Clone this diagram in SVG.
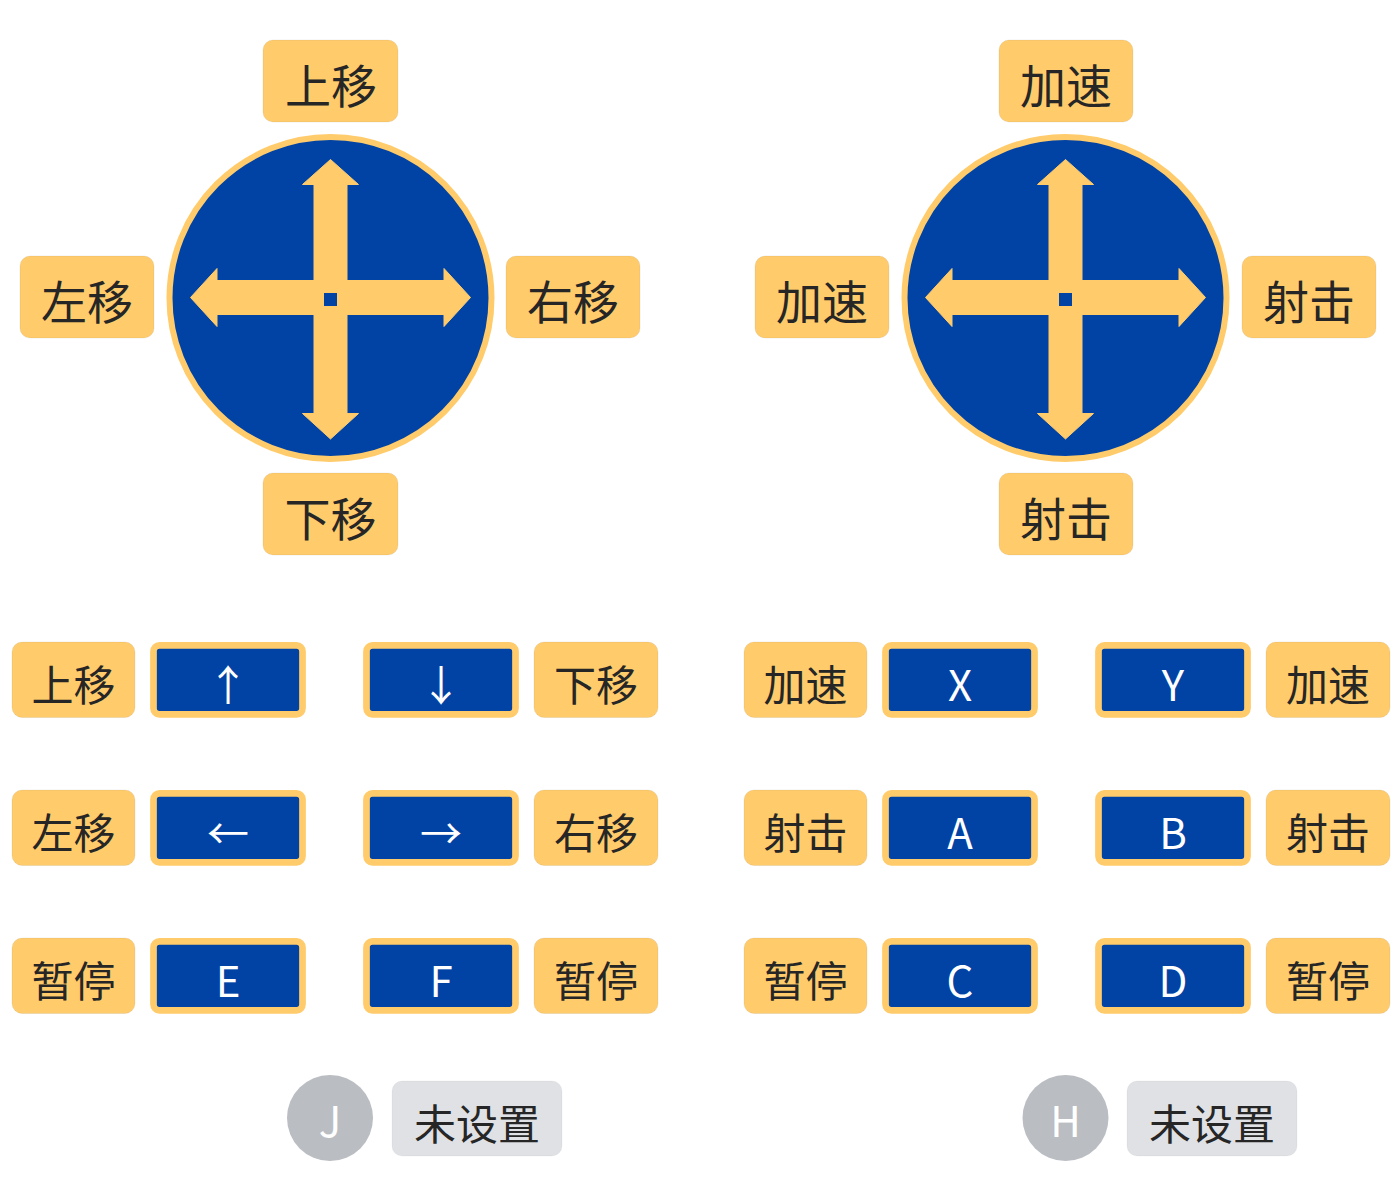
<svg xmlns="http://www.w3.org/2000/svg" xmlns:xlink="http://www.w3.org/1999/xlink" width="1400" height="1200" viewBox="0 0 1400 1200">
<style>
text{font-family:"Noto Sans CJK SC","Noto Sans",sans-serif;text-anchor:middle}
.lg{fill:#ffcb6b}
rect.lg{stroke:#000;stroke-opacity:.1;stroke-width:.6}
.big{font-size:46px;fill:#262626}
.sm{font-size:42px;fill:#262626}
.key{font-size:42px;fill:#fff}
.kr{fill:#0043a5;stroke:#ffcb6b;stroke-width:6.700}
.gr{fill:#dfe1e5;stroke:#000;stroke-opacity:.06;stroke-width:.6}
.gc{fill:#babdc2}
</style>
<defs>
<g id="stick">
<circle r="161" fill="#0043a5" stroke="#ffcb6b" stroke-width="6"/>
<path class="lg" stroke="#ffcb6b" stroke-width="1" stroke-linejoin="round" d="M0-138.500L28-113.500H16.500V-17.500H113.500V-29.500L140-.5L113.500 28.500V16.500H16.500V115.500H28L0 141L-28 115.500H-16.500V16.500H-113.500V28.500L-140-.5L-113.500-29.500V-17.500H-16.500V-113.500H-28Z"/>
<rect x="-6.500" y="-5" width="13" height="13" fill="#0043a5"/>
</g>
</defs>
<g id="stick-left"><use xlink:href="#stick" href="#stick" x="330.500" y="298"/></g>
<g id="stick-right"><use xlink:href="#stick" href="#stick" x="1065.500" y="298"/></g>
<g id="n1"><rect class="lg" x="263" y="40" width="135" height="82" rx="10"/><text class="big" x="331" y="103">上移</text></g>
<g id="n2"><rect class="lg" x="20" y="256" width="134" height="82" rx="10"/><text class="big" x="87" y="319">左移</text></g>
<g id="n3"><rect class="lg" x="506" y="256" width="134" height="82" rx="10"/><text class="big" x="573" y="319">右移</text></g>
<g id="n4"><rect class="lg" x="263" y="473" width="135" height="82" rx="10"/><text class="big" x="330.500" y="536">下移</text></g>
<g id="n5"><rect class="lg" x="999" y="40" width="134" height="82" rx="10"/><text class="big" x="1066" y="103">加速</text></g>
<g id="n6"><rect class="lg" x="755" y="256" width="134" height="82" rx="10"/><text class="big" x="822" y="319">加速</text></g>
<g id="n7"><rect class="lg" x="1242" y="256" width="134" height="82" rx="10"/><text class="big" x="1309" y="319">射击</text></g>
<g id="n8"><rect class="lg" x="999" y="473" width="134" height="82" rx="10"/><text class="big" x="1066" y="536">射击</text></g>

<g id="l1"><rect class="lg" x="12" y="642" width="123" height="75.500" rx="10"/><text class="sm" x="73.500" y="701">上移</text></g>
<g id="k1"><rect class="kr" x="153.500" y="645.300" width="149" height="69" rx="6"/><text class="key" x="228" y="701">↑</text></g>
<g id="k2"><rect class="kr" x="366.500" y="645.300" width="149" height="69" rx="6"/><text class="key" x="441" y="701">↓</text></g>
<g id="l2"><rect class="lg" x="534" y="642" width="124" height="75.500" rx="10"/><text class="sm" x="596" y="701">下移</text></g>
<g id="l3"><rect class="lg" x="12" y="790" width="123" height="75.500" rx="10"/><text class="sm" x="73.500" y="849">左移</text></g>
<g id="k3"><rect class="kr" x="153.500" y="793.300" width="149" height="69" rx="6"/><text class="key" x="228" y="849">←</text></g>
<g id="k4"><rect class="kr" x="366.500" y="793.300" width="149" height="69" rx="6"/><text class="key" x="441" y="849">→</text></g>
<g id="l4"><rect class="lg" x="534" y="790" width="124" height="75.500" rx="10"/><text class="sm" x="596" y="849">右移</text></g>
<g id="l5"><rect class="lg" x="12" y="938" width="123" height="75.500" rx="10"/><text class="sm" x="73.500" y="997">暂停</text></g>
<g id="k5"><rect class="kr" x="153.500" y="941.300" width="149" height="69" rx="6"/><text class="key" x="228" y="997">E</text></g>
<g id="k6"><rect class="kr" x="366.500" y="941.300" width="149" height="69" rx="6"/><text class="key" x="441" y="997">F</text></g>
<g id="l6"><rect class="lg" x="534" y="938" width="124" height="75.500" rx="10"/><text class="sm" x="596" y="997">暂停</text></g>

<g id="l7"><rect class="lg" x="744" y="642" width="123" height="75.500" rx="10"/><text class="sm" x="805.500" y="701">加速</text></g>
<g id="k7"><rect class="kr" x="885.500" y="645.300" width="149" height="69" rx="6"/><text class="key" x="960" y="701">X</text></g>
<g id="k8"><rect class="kr" x="1098.500" y="645.300" width="149" height="69" rx="6"/><text class="key" x="1173" y="701">Y</text></g>
<g id="l8"><rect class="lg" x="1266" y="642" width="124" height="75.500" rx="10"/><text class="sm" x="1328" y="701">加速</text></g>
<g id="l9"><rect class="lg" x="744" y="790" width="123" height="75.500" rx="10"/><text class="sm" x="805.500" y="849">射击</text></g>
<g id="k9"><rect class="kr" x="885.500" y="793.300" width="149" height="69" rx="6"/><text class="key" x="960" y="849">A</text></g>
<g id="k10"><rect class="kr" x="1098.500" y="793.300" width="149" height="69" rx="6"/><text class="key" x="1173" y="849">B</text></g>
<g id="l10"><rect class="lg" x="1266" y="790" width="124" height="75.500" rx="10"/><text class="sm" x="1328" y="849">射击</text></g>
<g id="l11"><rect class="lg" x="744" y="938" width="123" height="75.500" rx="10"/><text class="sm" x="805.500" y="997">暂停</text></g>
<g id="k11"><rect class="kr" x="885.500" y="941.300" width="149" height="69" rx="6"/><text class="key" x="960" y="997">C</text></g>
<g id="k12"><rect class="kr" x="1098.500" y="941.300" width="149" height="69" rx="6"/><text class="key" x="1173" y="997">D</text></g>
<g id="l12"><rect class="lg" x="1266" y="938" width="124" height="75.500" rx="10"/><text class="sm" x="1328" y="997">暂停</text></g>

<g id="j"><circle class="gc" cx="330" cy="1118" r="43"/><text class="key" x="330" y="1137">J</text></g>
<g id="j-label"><rect class="gr" x="392" y="1081" width="170" height="75" rx="10"/><text class="sm" x="477" y="1140">未设置</text></g>
<g id="h"><circle class="gc" cx="1065.500" cy="1118" r="43"/><text class="key" x="1065.500" y="1137">H</text></g>
<g id="h-label"><rect class="gr" x="1127" y="1081" width="170" height="75" rx="10"/><text class="sm" x="1212" y="1140">未设置</text></g>
<g id="connectors"/>
</svg>
